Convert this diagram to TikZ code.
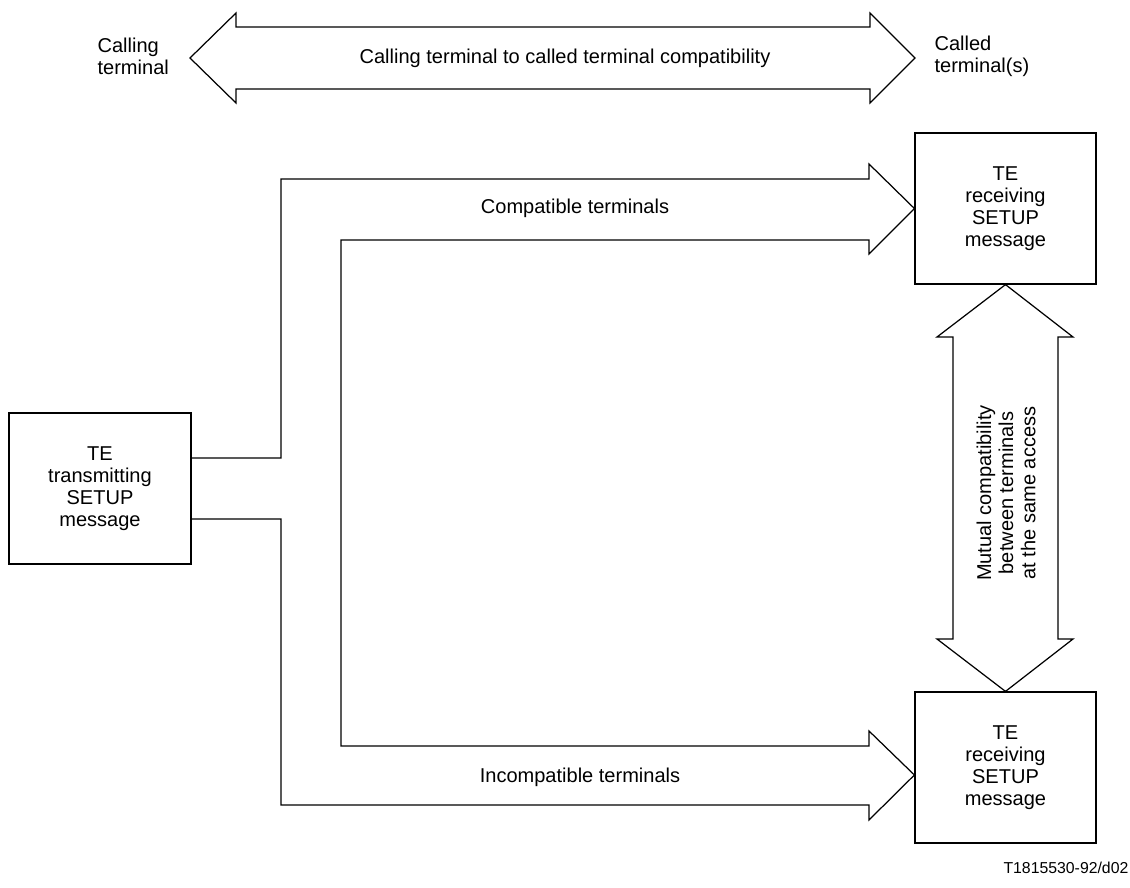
\documentclass[tikz,border=0pt]{standalone}
\usepackage{fontspec}
\setmainfont{Liberation Sans}
\usepackage{tikz}

\begin{document}
\begin{tikzpicture}[x=0.02cm, y=-0.02cm, line width=0.7pt,
    font=\fontsize{11.4}{12.6}\selectfont,
    box/.style={draw, minimum height=3.02cm, align=center}]
        \useasboundingbox (0,0) rectangle (1130,888);

         % calling / called terminal
        \node[anchor=west, align=left, inner sep=0pt] (calling) at (97,56) {Calling\\terminal};
        \node[anchor=west, align=left, inner sep=0pt] (called) at (934,56) {Called\\terminal(s)};
        \coordinate (lt) at (190,58);
        \coordinate (rt) at (915,58);
        \draw (lt) -- (236,13) -- (236,27) -- (870,27) -- (870,13) -- (rt)
              -- (870,103) -- (870,89) -- (236,89) -- (236,103) -- cycle;
        \node (endtoend) at (565,58) {Calling terminal to called terminal compatibility};

         % terminals
        \node[box, minimum width=3.64cm] (tx) at (100,488.5) {TE\\transmitting\\SETUP\\message};
        \node[box, minimum width=3.62cm] (rx1) at (1005.5,208.5) {TE\\receiving\\SETUP\\message};
        \node[box, minimum width=3.62cm] (rx2) at (1005.5,767.5) {TE\\receiving\\SETUP\\message};

         % SETUP offered to both
        \draw (tx.east |- 0,458) -- (281,458) -- (281,179) -- (869,179) -- (869,164)
              -- (rx1.west) -- (869,254) -- (869,240) -- (341,240) -- (341,746)
              -- (869,746) -- (869,731) -- (rx2.west |- 0,775) -- (869,820)
              -- (869,805) -- (281,805) -- (281,519) -- (tx.east |- 0,519);
        \node (compat) at (575,208) {Compatible terminals};
        \node (incompat) at (580,777) {Incompatible terminals};

         % mutual
        \draw (rx1.south) -- (1073,337) -- (1058,337) -- (1058,639) -- (1073,639)
              -- (rx2.north) -- (937,639) -- (953,639) -- (953,337) -- (937,337) -- cycle;
        \node[rotate=90, align=center] (mutual) at (1006,493)
              {Mutual compatibility\\between terminals\\at the same access};

        \node[anchor=base east, inner sep=0pt, font=\fontsize{9}{10}\selectfont] (tag) at (1129,873) {T1815530-92/d02};
\end{tikzpicture}
\end{document}
